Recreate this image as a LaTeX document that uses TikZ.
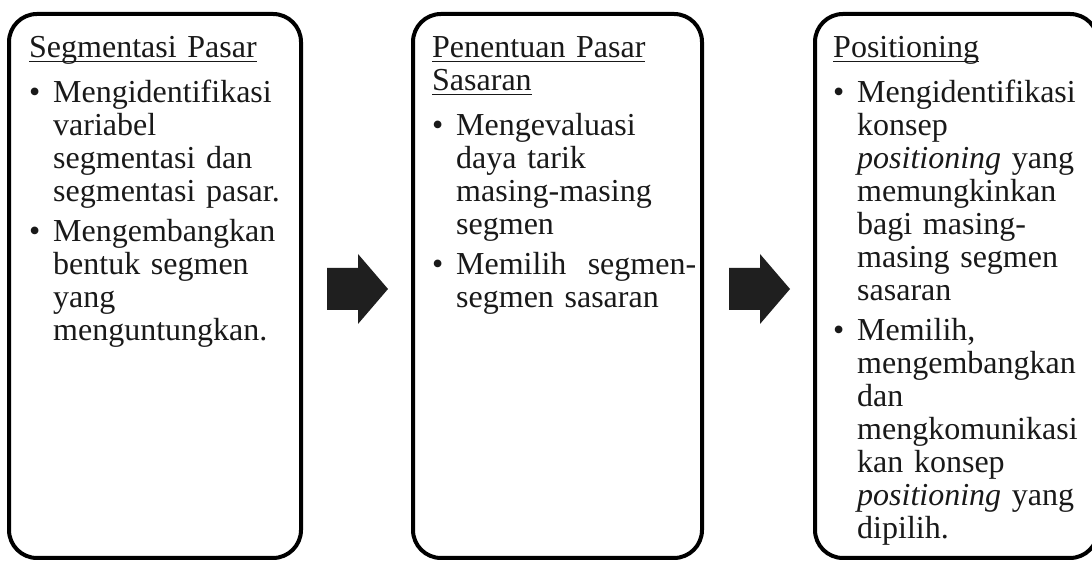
\documentclass[tikz,border=0pt]{standalone}
\usepackage{fontspec}
\setmainfont{Liberation Serif}
\newcommand\titleul[1]{\setbox0\hbox{#1}\rlap{\rule[-5.3pt]{\wd0}{1.6pt}}\box0}
\newcommand\bulitem[1]{\par\vspace{#1}\hangindent=24pt\hangafter=1\noindent\makebox[24pt][l]{\textbullet}}
\newcommand\firstline{\noindent\rule{0pt}{24pt}}
\begin{document}
\begin{tikzpicture}[x=1pt,y=1pt,
  box/.style={draw=black, line width=4pt, rounded corners=28pt, minimum height=544pt, inner sep=0pt},
  txt/.style={anchor=north west, inner sep=0pt, text width=265pt, font=\fontsize{32}{33}\selectfont, text=black!90},
  blockarrow/.style={fill=black!88}]
\useasboundingbox (0,0) rectangle (1092,561);
\fill[white] (0,0) rectangle (1092,561);
\clip (0,0) rectangle (1092,561);
% boxes
\node[box, minimum width=292pt] (b1) at (155,275) {};
\node[box, minimum width=289pt] (b2) at (557.5,275) {};
\node[box, minimum width=283pt] (b3) at (956.5,275) {};
% texts
\node[txt] (t1) at (29,528) {\firstline\titleul{Segmentasi Pasar}%
\bulitem{12pt}Mengidentifikasi\newline variabel\newline segmentasi dan\newline segmentasi pasar.%
\bulitem{7pt}Mengembangkan\newline bentuk segmen\newline yang\newline menguntungkan.\par};
\node[txt] (t2) at (432,528) {\firstline\titleul{Penentuan Pasar}\newline\titleul{Sasaran}%
\bulitem{12pt}Mengevaluasi\newline daya tarik\newline masing-masing\newline segmen%
\bulitem{7pt}Memilih\ \ segmen-\newline segmen sasaran\par};
\node[txt] (t3) at (833,528) {\firstline\titleul{Positioning}%
\bulitem{12pt}Mengidentifikasi\newline konsep\newline \textit{positioning} yang\newline memungkinkan\newline bagi masing-\newline masing segmen\newline sasaran%
\bulitem{7pt}Memilih,\newline mengembangkan\newline dan\newline mengkomunikasi\newline kan konsep\newline \textit{positioning} yang\newline dipilih.\par};
% block arrows
\coordinate (a1) at (327,272);
\coordinate (a2) at (729,272);
\foreach \a in {a1,a2}{
  \fill[blockarrow] ([yshift=21pt]\a) -- ++(31,0) -- ++(0,14) -- ++(30,-35) -- ++(-30,-35) -- ++(0,14) -- ++(-31,0) -- cycle;
}
\end{tikzpicture}
\end{document}
